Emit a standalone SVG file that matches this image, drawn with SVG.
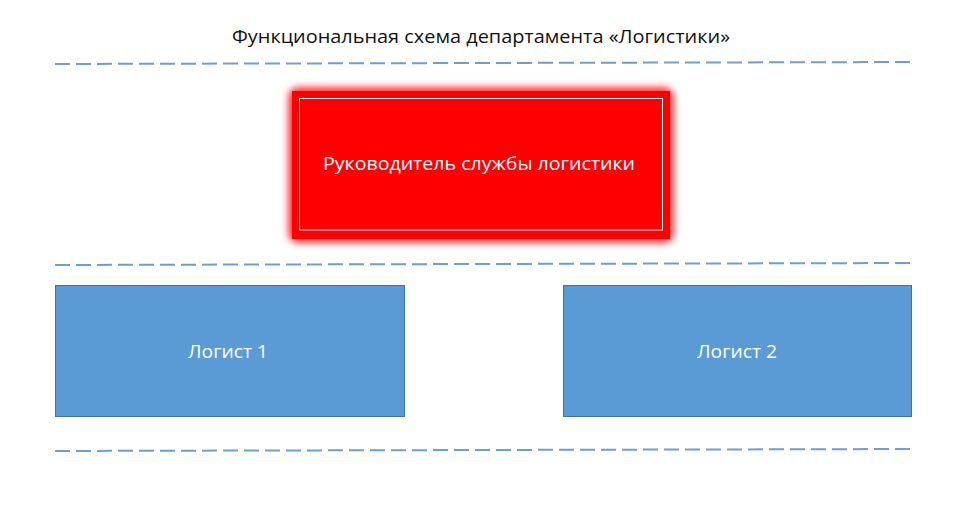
<svg xmlns="http://www.w3.org/2000/svg" width="975" height="505" viewBox="0 0 975 505">
<style>
.t{font-family:"Open Sans","Liberation Sans",sans-serif;text-anchor:middle;}
.dash{stroke:#6a9fd0;stroke-width:2;stroke-dasharray:15 6;fill:none;}
.blue{fill:#5b9bd5;stroke:#41719c;stroke-width:1;}
</style>
<defs>
<filter id="glow" x="-10%" y="-20%" width="120%" height="140%">
<feGaussianBlur stdDeviation="3.5"/>
</filter>
</defs>
<rect width="975" height="505" fill="#fff"/>
<text class="t" x="481" y="43" font-size="18.5" textLength="498" lengthAdjust="spacingAndGlyphs" fill="#111">Функциональная схема департамента «Логистики»</text>
<g id="connectors">
<line class="dash" x1="55" y1="64" x2="910" y2="62"/>
<line class="dash" x1="55" y1="265" x2="910" y2="263"/>
<line class="dash" x1="55" y1="451" x2="910" y2="449"/>
</g>
<g id="head">
<rect x="288" y="87" width="386" height="156" rx="10" fill="#ff3a3a" filter="url(#glow)"/>
<rect x="292" y="91" width="378" height="148" fill="#ff0000"/>
<rect x="299.5" y="98.5" width="363" height="131.5" fill="none" stroke="#ffffff" stroke-width="1"/>
<text class="t" x="479" y="170" font-size="18.5" textLength="312" lengthAdjust="spacingAndGlyphs" fill="#fff">Руководитель службы логистики</text>
</g>
<g id="logist1">
<rect class="blue" x="55.5" y="285.5" width="349" height="131"/>
<text class="t" x="228" y="358" font-size="18.5" textLength="80" lengthAdjust="spacingAndGlyphs" fill="#fff">Логист 1</text>
</g>
<g id="logist2">
<rect class="blue" x="563.5" y="285.5" width="348" height="131"/>
<text class="t" x="737" y="358" font-size="18.5" textLength="80" lengthAdjust="spacingAndGlyphs" fill="#fff">Логист 2</text>
</g>
</svg>
